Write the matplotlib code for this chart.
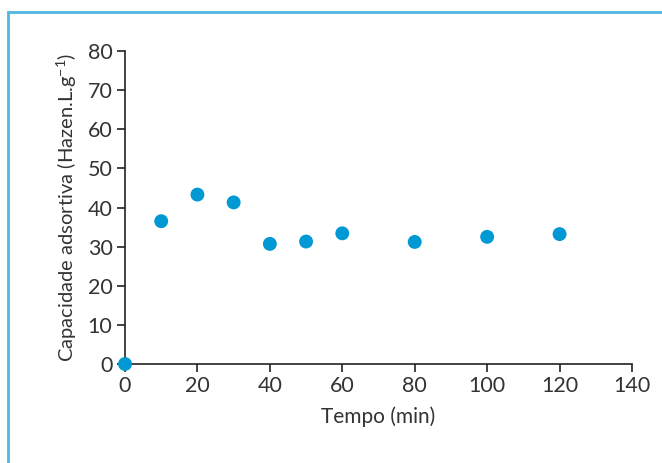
import matplotlib
matplotlib.use('Agg')
import matplotlib.pyplot as plt
from matplotlib.patches import Rectangle

tempo = [0, 10, 20, 30, 40, 50, 60, 80, 100, 120]
capacidade = [0, 36.5, 43.3, 41.3, 30.7, 31.3, 33.4, 31.2, 32.5, 33.2]

plt.rcParams['font.family'] = ['Lato', 'DejaVu Sans']
plt.rcParams['mathtext.default'] = 'regular'

fig = plt.figure(figsize=(6.62, 4.63), dpi=100)
ax = fig.add_axes([125/662, 1-364/463, 507/662, 313/463])

ax.scatter(tempo, capacidade, s=100, color='#0099d4', edgecolors='none', zorder=3, clip_on=False)

ax.set_xlim(0, 140)
ax.set_ylim(0, 80)
ax.set_xticks(range(0, 141, 20))
ax.set_yticks(range(0, 81, 10))
for s in ['top', 'right']:
    ax.spines[s].set_visible(False)
for s in ['left', 'bottom']:
    ax.spines[s].set_color('#222222')
    ax.spines[s].set_linewidth(1.2)
ax.tick_params(direction='out', length=6, width=1.2, color='#222222',
               labelsize=15.5, labelcolor='#333333', pad=3)
ax.set_xlabel('Tempo (min)', fontsize=15, color='#333333', labelpad=7)
ax.set_ylabel('Capacidade adsortiva (Hazen.L.g$^{-1}$)', fontsize=14.5, color='#333333', labelpad=6)

fig.patches.append(Rectangle((8/662, -0.1), 1.2, 1 - 12/463 + 0.1, transform=fig.transFigure,
                             fill=False, edgecolor='#4db8e0', linewidth=2))

fig.savefig('out.png', dpi=100)
